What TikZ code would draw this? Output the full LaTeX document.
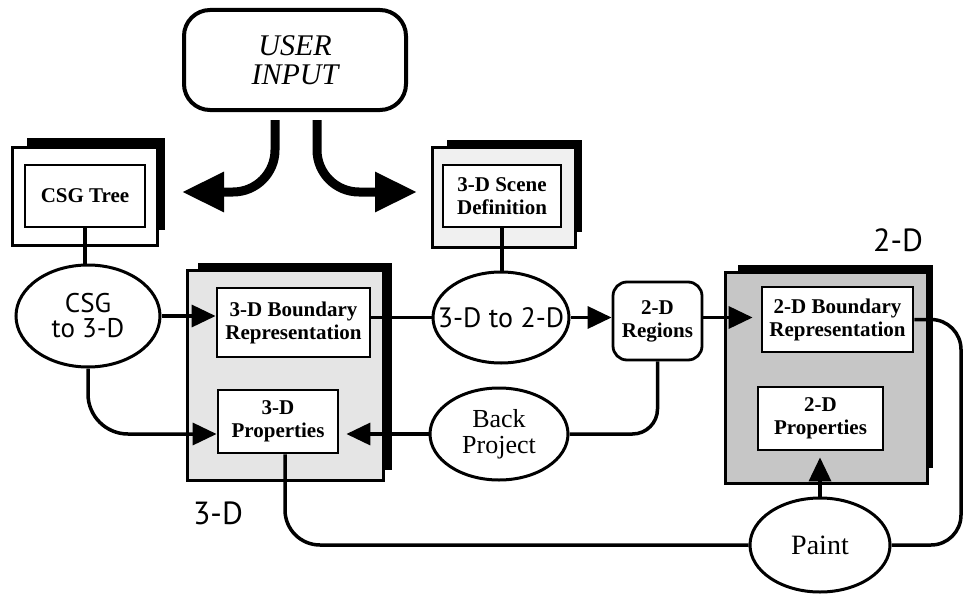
\documentclass[tikz,border=0pt]{standalone}
\usepackage{fontspec}
\setmainfont{Liberation Serif}
\newfontfamily\lblfont{PT Sans}
\usetikzlibrary{arrows.meta,calc,shapes.geometric}
\begin{document}
\begin{tikzpicture}[x=1pt,y=-1pt,
  frame/.style={draw,line width=3pt,inner sep=0pt},
  inbox/.style={draw,line width=2.8pt,fill=white,inner sep=0pt,align=center,font=\fontsize{21}{23}\selectfont\bfseries},
  proc/.style={ellipse,draw,line width=3pt,fill=white,inner sep=0pt},
  proctext/.style={align=center,inner sep=0pt},
  conn/.style={line width=3.5pt},
  tipped/.style={conn,-{Triangle[length=24pt,width=22pt]}},
  bigarrow/.style={line width=9pt,-{Triangle[length=42pt,width=38pt]},rounded corners=42pt},
  dimlabel/.style={font=\lblfont\fontsize{32}{32}\selectfont,inner sep=0pt}
]
\useasboundingbox (0,0) rectangle (966,594);

% user input
\node[draw,line width=4pt,rounded corners=26pt,minimum width=222pt,minimum height=100pt,
      align=center,font=\fontsize{30}{29}\selectfont\itshape] (user) at (295,60) {USER\\INPUT};

% shadows of the frames
\fill (27,138) rectangle (165,230);
\fill (447,140) rectangle (582,232);
\fill (198,263) rectangle (392,470);
\fill (738,265) rectangle (933,468);

% frames
\node[frame,fill=white,minimum width=145pt,minimum height=98pt] (csgo) at (84.5,196) {};
\node[frame,fill=gray!12,minimum width=143pt,minimum height=100pt] (sco) at (503.5,197) {};
\node[frame,fill=gray!20,minimum width=196pt,minimum height=210pt] (b3) at (285,375) {};
\node[frame,fill=gray!45,minimum width=202pt,minimum height=211pt] (b2) at (826,377.5) {};

% inner boxes
\node[inbox,minimum width=120pt,minimum height=62pt] (csgt) at (85,196) {CSG Tree};
\node[inbox,minimum width=118pt,minimum height=62pt] (scd) at (502,196) {3-D Scene\\Definition};
\node[inbox,minimum width=153pt,minimum height=69pt] (bnd3) at (293.5,322.5) {3-D Boundary\\Representation};
\node[inbox,minimum width=120pt,minimum height=63pt] (prop3) at (278,421.5) {3-D\\Properties};
\node[inbox,minimum width=151pt,minimum height=65pt] (bnd2) at (837.5,319.5) {2-D Boundary\\Representation};
\node[inbox,minimum width=125pt,minimum height=63pt] (prop2) at (820.5,418.5) {2-D\\Properties};
\node[inbox,rounded corners=14pt,minimum width=89pt,minimum height=78pt] (reg) at (657.5,321) {2-D\\Regions};

% processes
\node[proc,minimum width=144pt,minimum height=102pt] (csg) at (88,316) {};
\node[proctext,font=\lblfont\fontsize{27}{25}\selectfont] (csgtx) at (csg) {CSG\\to 3-D};
\node[proc,minimum width=136pt,minimum height=91pt] (e32) at (501,317.5) {};
\node[proctext,font=\lblfont\fontsize{28}{28}\selectfont] (e32tx) at (e32) {3-D to 2-D};
\node[proc,minimum width=138pt,minimum height=92pt] (bp) at (499,434) {};
\node[proctext,font=\fontsize{26}{26}\selectfont] (bptx) at (bp) {Back\\Project};
\node[proc,minimum width=140pt,minimum height=94pt] (pt) at (820,545) {};
\node[proctext,font=\fontsize{28}{28}\selectfont] (pttx) at (pt) {Paint};

% labels
\node[dimlabel] (l3) at (218,513) {3-D};
\node[dimlabel] (l2) at (898,240) {2-D};

% user arrows
\coordinate (ua1) at (182,192);
\coordinate (ua2) at (417,192);
\draw[bigarrow] ($(user.south)+(-20,8)$) |- (ua1);
\draw[bigarrow] ($(user.south)+(22,8)$) |- (ua2);

% connectors
\draw[conn] (csgt.south) -- (csgt.south |- csg.north);
\draw[tipped] (csg.east) -- (csg.east -| bnd3.west);
\draw[tipped,rounded corners=40pt] (csg.south) |- (prop3.west |- bp.west);
\draw[conn] (scd.south) -- (scd.south |- e32.north);
\draw[conn] (bnd3.east |- e32.west) -- (e32.west);
\draw[tipped] (e32.east) -- (e32.east -| reg.west);
\draw[tipped,shorten >=8pt] (reg.east |- e32.east) -- (e32.east -| bnd2.west);
\draw[conn,rounded corners=25pt] (reg.south) |- (bp.east);
\draw[tipped,shorten >=7pt] (bp.west) -- (bp.west -| prop3.east);
\draw[conn,rounded corners=35pt] ($(prop3.south)+(7,0)$) |- (pt.west);
\draw[tipped,shorten >=6pt] (pt.north) -- (pt.north |- prop2.south);
\coordinate (rc1) at (961,319.5);
\coordinate (rc2) at (961,545);
\draw[conn,rounded corners=30pt] (bnd2.east) -- (rc1) -- (rc2) -- (pt.east);
\end{tikzpicture}
\end{document}
